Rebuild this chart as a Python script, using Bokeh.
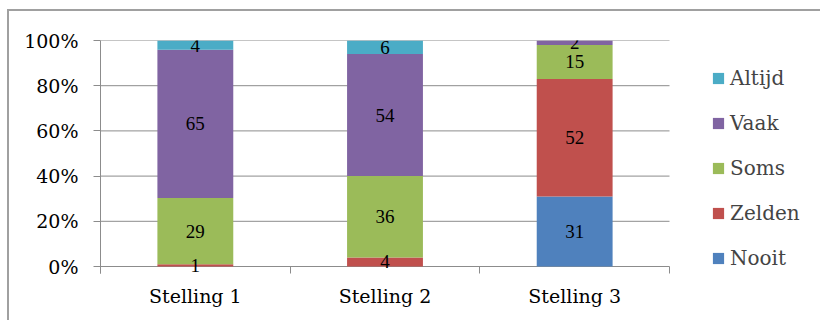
from bokeh.plotting import figure
from bokeh.models import (ColumnDataSource, FixedTicker, Legend, LegendItem,
                          Range1d, LabelSet)
from bokeh.embed import file_html
from bokeh.resources import INLINE

# Survey answers per statement (counts, shown as share of total)
categories = ["Stelling 1", "Stelling 2", "Stelling 3"]
series_names = ["Nooit", "Zelden", "Soms", "Vaak", "Altijd"]
nooit = [0, 0, 31]
zelden = [1, 4, 52]
soms = [29, 36, 15]
vaak = [65, 54, 2]
altijd = [4, 6, 0]
y_tick_labels = ["0%", "20%", "40%", "60%", "80%", "100%"]

colors = ["#4F81BD", "#C0504D", "#9BBB59", "#8064A2", "#4BACC6"]
FONT = "DejaVu Serif"
GRID = "#8C8C8C"
BORDER = "2px solid #A0A0A0"

series = [nooit, zelden, soms, vaak, altijd]
totals = [sum(col) for col in zip(*series)]
ncat = len(categories)
xpos = [i + 0.5 for i in range(ncat)]

# canvas geometry (px): plot area 569 x 226 px, legend sits to its right;
# the frame reaches TICK px below the 0% line so the category ticks hang
# below the baseline inside it
W, H = 813, 311
LEFT, TOP = 91, 29
PLOT_W, PLOT_H, TICK = 569, 226, 7
BOTTOM = H - TOP - PLOT_H - TICK
x_end = ncat * (W - LEFT) / PLOT_W
y_start = -TICK / PLOT_H

p = figure(width=W, height=H, output_backend="svg", toolbar_location=None,
           x_range=Range1d(0, x_end), y_range=Range1d(y_start, 1),
           min_border_left=LEFT, min_border_right=0,
           min_border_top=TOP, min_border_bottom=BOTTOM)
p.styles = {"border-top": BORDER, "border-left": BORDER,
            "margin-top": "9px", "margin-left": "7px"}
p.outline_line_color = None
p.background_fill_color = "white"
p.border_fill_color = "white"

# horizontal gridlines (the 0% one is the baseline), limited to the category area
yt = [0, 0.2, 0.4, 0.6, 0.8, 1.0]
p.segment(x0=[0] * len(yt), x1=[ncat] * len(yt), y0=yt, y1=yt,
          line_color=GRID, line_width=1)

renderers = []
bottoms = [0.0] * ncat
for name, vals, col in zip(series_names, series, colors):
    frac = [v / t for v, t in zip(vals, totals)]
    tops = [b + f for b, f in zip(bottoms, frac)]
    mids = [(b + t) / 2 for b, t in zip(bottoms, tops)]
    labels = [str(v) if v > 0 else "" for v in vals]
    src = ColumnDataSource(dict(x=xpos, bottom=bottoms, top=tops,
                                mid=mids, label=labels))
    r = p.vbar(x="x", width=0.4, bottom="bottom", top="top", source=src,
               fill_color=col, line_color=None)
    p.add_layout(LabelSet(x="x", y="mid", text="label", source=src,
                          text_align="center", text_baseline="middle",
                          text_font=FONT, text_font_size="19px",
                          text_color="black"))
    renderers.append((name, r))
    bottoms = tops

# category axis: ticks at the category boundaries, hanging below the baseline
p.xaxis.ticker = FixedTicker(ticks=xpos, minor_ticks=list(range(ncat + 1)))
p.xaxis.major_label_overrides = {x: c for x, c in zip(xpos, categories)}
p.xaxis.major_tick_line_color = None
p.xaxis.minor_tick_in = TICK
p.xaxis.minor_tick_out = 0
p.xaxis.minor_tick_line_color = GRID
p.xaxis.axis_line_color = None
p.xaxis.major_label_standoff = 5
p.xaxis.major_label_text_font = FONT
p.xaxis.major_label_text_font_size = "19px"
p.xaxis.major_label_text_color = "black"

p.yaxis.ticker = FixedTicker(ticks=yt)
p.yaxis.major_label_overrides = {t: l for t, l in zip(yt, y_tick_labels)}
p.yaxis.minor_tick_line_color = None
p.yaxis.major_tick_in = 0
p.yaxis.major_tick_out = 7
p.yaxis.major_tick_line_color = GRID
p.yaxis.axis_line_color = GRID
p.yaxis.major_label_standoff = 15
p.yaxis.major_label_text_font = FONT
p.yaxis.major_label_text_font_size = "19px"
p.yaxis.major_label_text_color = "black"

p.xgrid.grid_line_color = None
p.ygrid.grid_line_color = None

legend = Legend(items=[LegendItem(label=n, renderers=[r]) for n, r in reversed(renderers)],
                location=(611, 3), orientation="vertical",
                glyph_width=14, glyph_height=14, label_height=20,
                spacing=21, padding=0, margin=0,
                label_text_font=FONT, label_text_font_size="20px",
                label_standoff=5, border_line_color=None,
                background_fill_alpha=0)
p.add_layout(legend, "center")

open("out.html", "w").write(file_html(p, INLINE))
